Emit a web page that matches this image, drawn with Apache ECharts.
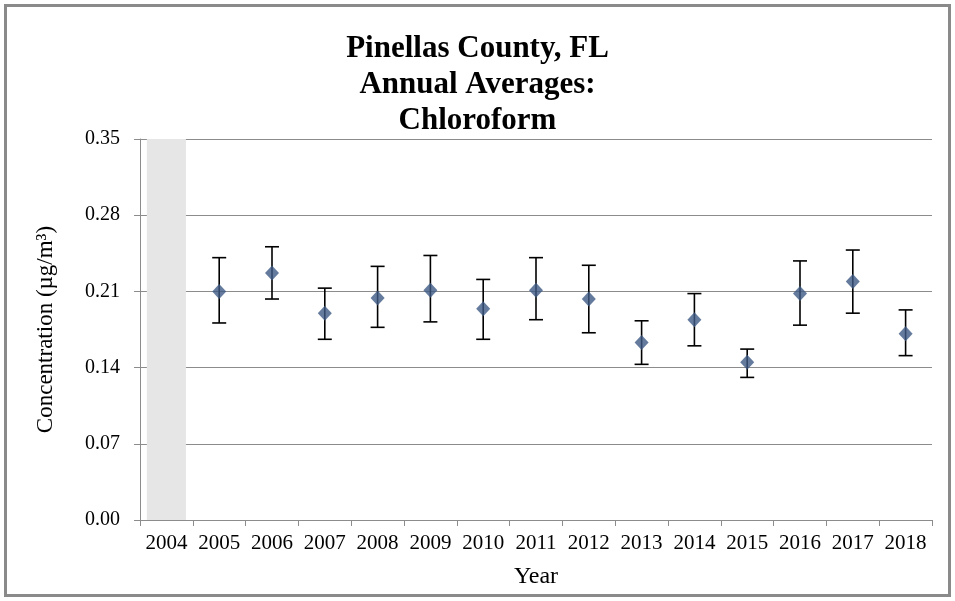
<!DOCTYPE html>
<html>
<head>
<meta charset="utf-8">
<script src="https://cdn.jsdelivr.net/npm/echarts@6/dist/echarts.min.js"></script>
<style>
html,body{margin:0;padding:0;background:#fff;}
#chart{width:955px;height:601px;}
</style>
</head>
<body>
<div id="chart"></div>
<script>
var years = ['2004','2005','2006','2007','2008','2009','2010','2011','2012','2013','2014','2015','2016','2017','2018'];
var means = [null,0.210,0.227,0.190,0.204,0.211,0.194,0.211,0.203,0.163,0.184,0.145,0.208,0.219,0.171];
var lowers = [null,0.181,0.203,0.166,0.177,0.182,0.166,0.184,0.172,0.143,0.160,0.131,0.179,0.190,0.151];
var uppers = [null,0.241,0.251,0.213,0.233,0.243,0.221,0.241,0.234,0.183,0.208,0.157,0.238,0.248,0.193];
var shade = [0.35,null,null,null,null,null,null,null,null,null,null,null,null,null,null];

var errData = years.map(function(y,i){ return means[i]==null ? null : [i, lowers[i], uppers[i]]; }).filter(function(d){return d;});

var chart = echarts.init(document.getElementById('chart'));
var serif = '"Liberation Serif","DejaVu Serif",serif';
chart.setOption({
  animation:false,
  title:{
    text:'Pinellas County, FL\nAnnual Averages:\nChloroform',
    left:'center', top:26,
    textStyle:{fontFamily:serif,fontWeight:'bold',fontSize:31,lineHeight:36,color:'#000'}
  },
  graphic:[{type:'rect',shape:{x:5.5,y:5.5,width:944,height:590},style:{fill:'none',stroke:'#8a8a8a',lineWidth:3},silent:true}],
  grid:{left:140,right:23,top:139,bottom:81},
  xAxis:{
    type:'category', data:years, boundaryGap:true,
    name:'Year', nameLocation:'middle', nameGap:45,
    nameTextStyle:{fontFamily:serif,fontSize:24,color:'#000'},
    axisLine:{lineStyle:{color:'#8c8c8c',width:1}},
    axisTick:{show:true,alignWithLabel:false,length:6,lineStyle:{color:'#8c8c8c'}},
    axisLabel:{fontFamily:serif,fontSize:21,color:'#000',margin:13,interval:0},
    splitLine:{show:false}
  },
  yAxis:{
    type:'value', min:0, max:0.35, interval:0.07,
    name:'Concentration (µg/m³)', nameLocation:'middle', nameGap:83, nameRotate:90,
    nameTextStyle:{fontFamily:serif,fontSize:23,color:'#000'},
    axisLine:{show:true,lineStyle:{color:'#8c8c8c',width:1}},
    axisTick:{show:true,length:6,lineStyle:{color:'#8c8c8c'}},
    axisLabel:{fontFamily:serif,fontSize:20,color:'#000',margin:20,formatter:function(v){return v.toFixed(2);}},
    splitLine:{lineStyle:{color:'#8c8c8c',width:1}}
  },
  series:[
    {type:'bar',data:shade,barWidth:'74%',itemStyle:{color:'#e6e6e6'},silent:true,z:1},
    {type:'custom',data:errData,z:3,
      renderItem:function(params,api){
        var x=api.value(0);
        var lo=api.coord([x,api.value(1)]);
        var hi=api.coord([x,api.value(2)]);
        var cw=7;
        var st={stroke:'#000',lineWidth:1.6};
        return {type:'group',children:[
          {type:'line',shape:{x1:lo[0],y1:lo[1],x2:hi[0],y2:hi[1]},style:st},
          {type:'line',shape:{x1:lo[0]-cw,y1:lo[1],x2:lo[0]+cw,y2:lo[1]},style:st},
          {type:'line',shape:{x1:hi[0]-cw,y1:hi[1],x2:hi[0]+cw,y2:hi[1]},style:st}
        ]};
      }},
    {type:'scatter',data:means,symbol:'diamond',symbolSize:[14,15],z:4,
      itemStyle:{color:'#3d5a85'}}
  ]
});
</script>
</body>
</html>
